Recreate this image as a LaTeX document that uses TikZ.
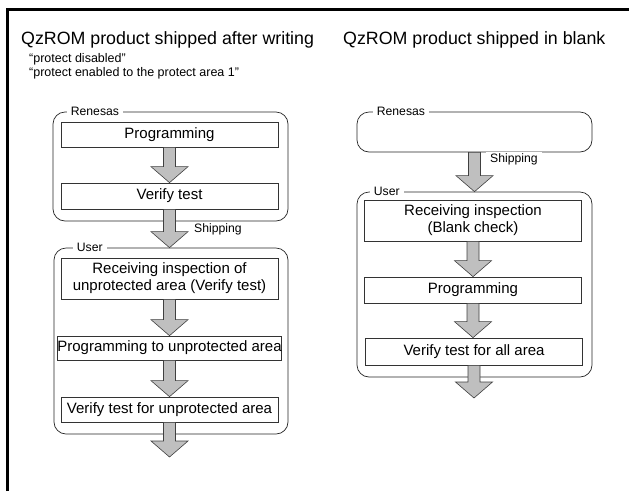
\documentclass[tikz,border=0pt]{standalone}
\usepackage{fontspec}
\setmainfont{Liberation Sans}
\usetikzlibrary{calc}
\newcommand{\fatarrow}[2]{%
  \draw[fatarrow] let \p1=(#1), \p2=(#2) in
    (\x1-6pt,\y1) -- (\x1-6pt,\y2+16pt) -- (\x1-18.5pt,\y2+16pt) -- (\x1,\y2)
    -- (\x1+18.5pt,\y2+16pt) -- (\x1+6pt,\y2+16pt) -- (\x1+6pt,\y1) -- cycle;}

\begin{document}
\begin{tikzpicture}[x=1pt, y=-1pt,
    title/.style={anchor=base west, inner sep=0, font=\fontsize{17.8}{20}\selectfont},
    subtitle/.style={anchor=base west, inner sep=0, font=\fontsize{12.5}{14}\selectfont},
    group/.style={draw, black!85, line width=0.7pt, rounded corners=12pt, inner sep=0},
    grouplabel/.style={anchor=west, fill=white, inner xsep=4pt, inner ysep=1pt, font=\fontsize{12.2}{14}\selectfont},
    stepbox/.style={draw, black!80, line width=0.7pt, inner sep=0, minimum width=217pt,
                    align=center, font=\fontsize{15}{17}\selectfont, text=black},
    fatarrow/.style={draw=black!75, fill=black!25, line width=0.6pt, line join=miter}]
  \useasboundingbox (0,0) rectangle (629,491);

  % frame
  \draw[line width=3.3pt] (7.7,491) -- (7.7,9.3) -- (629,9.3);

  % titles
  \node[title] (tleft) at (21,44.5) {QzROM product shipped after writing};
  \node[subtitle] (sub1) at (29,62) {“protect disabled”};
  \node[subtitle] (sub2) at (29,76) {“protect enabled to the protect area 1”};
  \node[title] (tright) at (343,44.5) {QzROM product shipped in blank};

  % left flow
  \node[group, minimum width=235pt, minimum height=109pt] (rene1) at (170.5,166.5) {};
  \node[group, minimum width=234pt, minimum height=186pt] (user1) at (171,341) {};
  \node[grouplabel] (rene1lbl) at ([xshift=14pt]rene1.north west) {Renesas};
  \node[grouplabel] (user1lbl) at ([xshift=19pt]user1.north west) {User};

  \node[stepbox, minimum height=25pt] (prog1) at (169.5,134.5) {Programming};
  \node[stepbox, minimum height=26pt] (verify1) at (169.5,196) {Verify test};
  \node[stepbox, minimum height=41pt] (recv1) at (169.5,278.5)
       {Receiving inspection of\\unprotected area (Verify test)};
  \node[stepbox, minimum height=24pt] (progun) at (169.5,348) {Programming to unprotected area};
  \node[stepbox, minimum height=25pt] (verifyun) at (169.5,409.5) {Verify test for unprotected area};
  \coordinate (out1) at (169.5,457);

  \fatarrow{prog1.south}{verify1.north}
  \fatarrow{verify1.south}{user1.north}
  \fatarrow{recv1.south}{progun.north}
  \fatarrow{progun.south}{verifyun.north}
  \fatarrow{verifyun.south}{out1}
  \node[grouplabel, anchor=west] (ship1) at (190,229) {Shipping};

  % right flow
  \node[group, minimum width=235pt, minimum height=40pt] (rene2) at (474.5,132) {};
  \node[group, minimum width=235pt, minimum height=185pt] (user2) at (474.5,284.5) {};
  \node[grouplabel] (rene2lbl) at ([xshift=16pt]rene2.north west) {Renesas};
  \node[grouplabel] (user2lbl) at ([xshift=13pt]user2.north west) {User};

  \node[stepbox, minimum height=41pt] (recv2) at (473,220.5) {Receiving inspection\\(Blank check)};
  \node[stepbox, minimum height=26pt] (prog2) at (473,290) {Programming};
  \node[stepbox, minimum height=27pt] (verify2) at (474,351.5) {Verify test for all area};
  \coordinate (out2) at (473,398);

  \fatarrow{rene2.south}{user2.north}
  \fatarrow{recv2.south}{prog2.north}
  \fatarrow{prog2.south}{verify2.north}
  \fatarrow{verify2.south}{out2}
  \node[grouplabel, anchor=west] (ship2) at (486,159) {Shipping};
\end{tikzpicture}
\end{document}
